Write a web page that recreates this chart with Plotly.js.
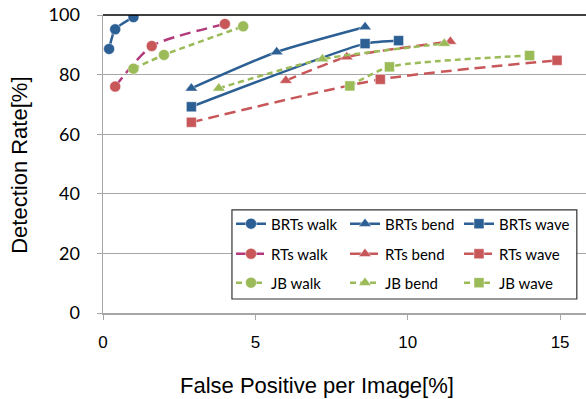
<!DOCTYPE html>
<html><head><meta charset="utf-8">
<script src="https://cdn.plot.ly/plotly-3.0.1.min.js"></script>
<style>html,body{margin:0;padding:0;background:#fff}#c{width:586px;height:399px}</style>
</head><body><div id="c"></div>
<script>
const seriesNames = ["BRTs walk","BRTs bend","BRTs wave","RTs walk","RTs bend","RTs wave","JB walk","JB bend","JB wave"];
const xTitle = 'False Positive per Image[%]';
const yTitle = 'Detection Rate[%]';
const brtsWalkX = [0.2, 0.4, 1.0];   const brtsWalkY = [88.6, 95.2, 99.3];
const brtsBendX = [2.9, 5.7, 8.6];   const brtsBendY = [75.4, 87.6, 96.0];
const brtsWaveX = [2.9, 8.6, 9.7];   const brtsWaveY = [69.2, 90.4, 91.4];
const rtsWalkX  = [0.4, 1.6, 4.0];   const rtsWalkY  = [76.0, 89.6, 97.0];
const rtsBendX  = [6.0, 8.0, 11.4];  const rtsBendY  = [78.0, 85.9, 91.1];
const rtsWaveX  = [2.9, 9.1, 14.9];  const rtsWaveY  = [64.0, 78.4, 84.8];
const jbWalkX   = [1.0, 2.0, 4.6];   const jbWalkY   = [82.0, 86.6, 96.2];
const jbBendX   = [3.8, 7.2, 11.2];  const jbBendY   = [75.4, 85.2, 90.4];
const jbWaveX   = [8.1, 9.4, 14.0];  const jbWaveY   = [76.2, 82.6, 86.4];

const blue = '#2C5F93', red = '#C8575A', green = '#9BBB59', magenta = '#B03A7C';
function tr(name, x, y, lc, mc, sym, dash, lg){
  return {type:'scatter', mode:'lines+markers', name, x, y, legend:lg,
    line:{color:lc, width:2.5, dash, shape:'spline', smoothing:0.6},
    marker:{color:mc, symbol:sym, size:sym==='square'?10:11, line:{color:'rgba(255,255,255,0.6)', width:0.8}}};
}
const longDash = '11px,6px', shortDash = '6px,4px';
const data = [
  tr(seriesNames[0], brtsWalkX, brtsWalkY, blue, blue, 'circle', 'solid', 'legend'),
  tr(seriesNames[1], brtsBendX, brtsBendY, blue, blue, 'triangle-up', 'solid', 'legend'),
  tr(seriesNames[2], brtsWaveX, brtsWaveY, blue, blue, 'square', 'solid', 'legend'),
  tr(seriesNames[3], rtsWalkX, rtsWalkY, magenta, red, 'circle', longDash, 'legend2'),
  tr(seriesNames[4], rtsBendX, rtsBendY, red, red, 'triangle-up', longDash, 'legend2'),
  tr(seriesNames[5], rtsWaveX, rtsWaveY, red, red, 'square', longDash, 'legend2'),
  tr(seriesNames[6], jbWalkX, jbWalkY, green, green, 'circle', shortDash, 'legend3'),
  tr(seriesNames[7], jbBendX, jbBendY, green, green, 'triangle-up', shortDash, 'legend3'),
  tr(seriesNames[8], jbWaveX, jbWaveY, green, green, 'square', shortDash, 'legend3')
];
function lg(y){
  return {orientation:'h', x:0.265, xanchor:'left', y, yanchor:'middle',
    bgcolor:'rgba(0,0,0,0)', borderwidth:0,
    font:{family:'Lato, Carlito, sans-serif', size:15}, entrywidth:69, entrywidthmode:'pixels',
    traceorder:'normal', itemwidth:30};
}
const titleFont = {family:'Liberation Sans, Arial, sans-serif', size:22, color:'#000'};
const layout = {
  width:586, height:399,
  margin:{l:103, r:0, t:15, b:86},
  paper_bgcolor:'#fff', plot_bgcolor:'#fff',
  showlegend:true,
  font:{family:'Lato, Carlito, sans-serif', color:'#000'},
  xaxis:{range:[0,15.85], tickvals:[0,5,10,15], showgrid:false, zeroline:false,
    showline:true, linecolor:'#A6A6A6', linewidth:1.5, ticks:'outside', ticklen:5, tickcolor:'#A6A6A6',
    tickfont:{family:'Liberation Sans, Arial, sans-serif', size:17}, ticklabelstandoff:8},
  yaxis:{range:[0,100], tickvals:[0,20,40,60,80,100], showgrid:true, gridcolor:'#A6A6A6', gridwidth:1.2, zeroline:false,
    showline:true, linecolor:'#A6A6A6', linewidth:1.5, ticks:'outside', ticklen:5, tickcolor:'#A6A6A6',
    tickfont:{family:'Lato, Carlito, sans-serif', size:18}, ticklabelstandoff:13},
  annotations:[
    {text:xTitle, xref:'paper', yref:'paper', x:0.443, y:-0.242, xanchor:'center', yanchor:'middle', showarrow:false, font:titleFont},
    {text:yTitle, xref:'paper', yref:'paper', x:-0.172, y:0.497, xanchor:'center', yanchor:'middle', textangle:-90, showarrow:false, font:titleFont}
  ],
  legend:lg(0.299), legend2:lg(0.198), legend3:lg(0.101),
  shapes:[
    {type:'line', xref:'paper', yref:'paper', x0:0, x1:1, y0:1, y1:1, line:{color:'#000', width:1.5}},
    {type:'rect', xref:'paper', yref:'paper', x0:0.267, x1:0.981, y0:0.047, y1:0.346, layer:'above',
     fillcolor:'#fff', line:{color:'#333', width:1.2}}
  ]
};
Plotly.newPlot('c', data, layout, {displayModeBar:false, staticPlot:true});
</script></body></html>
